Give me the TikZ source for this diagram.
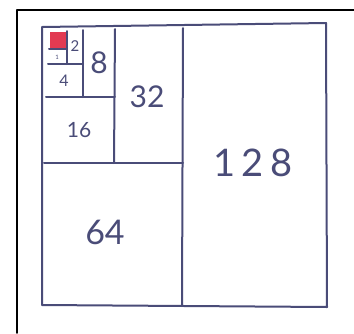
\documentclass[tikz,border=0pt]{standalone}
\usepackage{fontspec}
\setmainfont{Lato}
\definecolor{ink}{HTML}{4A4C78}
\definecolor{tile}{HTML}{E23A52}
\begin{document}
\begin{tikzpicture}[x=1pt, y=-1pt, line join=round, line cap=round]
	\useasboundingbox (0,0) rectangle (354,333);
	\fill[white] (0,0) rectangle (354,333);
	\draw[black, line width=1.6pt] (17,333) -- (17,10) -- (354,10);
	
	\tikzset{box/.style={draw=ink, line width=2pt}, num/.style={text=ink, inner sep=0pt}}
	
	\fill[tile] (50,32) rectangle (67,49);
	
	\draw[box] (42,27) -- (326,23) -- (327,307) -- (42,305) -- cycle;
	\draw[box] (183,28) -- (182,306);
	\draw[box] (44,163) -- (183,163);
	\draw[box] (115,29) -- (114,163);
	\draw[box] (46,97) -- (115,97);
	\draw[box] (83,30) -- (83,97);
	\draw[box] (48,64) -- (83,64);
	\draw[box] (67,31) -- (67,64);
	\draw[box] (49,49) -- (67,49);
	
	\node[num, font=\fontsize{38}{38}\selectfont] (n128) at (253,163) {1\,2\,8};
	\node[num, font=\fontsize{34}{34}\selectfont] (n64) at (105,232) {64};
	\node[num, font=\fontsize{30}{30}\selectfont] (n32) at (147,97) {32};
	\node[num, font=\fontsize{21}{21}\selectfont] (n16) at (79,130) {16};
	\node[num, font=\fontsize{30}{30}\selectfont] (n8) at (99,63) {8};
	\node[num, font=\fontsize{16}{16}\selectfont] (n4) at (64,81) {4};
	\node[num, font=\fontsize{15}{15}\selectfont] (n2) at (75,46) {2};
	\node[num, font=\fontsize{6}{6}\selectfont] (n1) at (57,57) {1};
	
\end{tikzpicture}
\end{document}
